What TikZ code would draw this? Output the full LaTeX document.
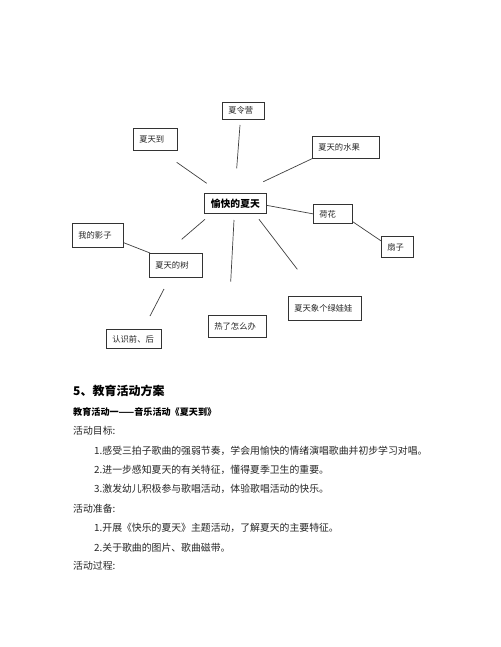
\documentclass[tikz,border=0pt]{standalone}
\usepackage{fontspec}
\newfontfamily\cjk{Noto Sans CJK SC}
\begin{document}
\begin{tikzpicture}[x=1pt,y=-1pt,
  box/.style={draw=black!80,line width=0.7pt,anchor=north west,inner xsep=6pt,inner ysep=0pt,align=left,font=\cjk\fontsize{8.3}{10}\selectfont,text=black!85},
  link/.style={draw=black!75,line width=0.7pt},
  body/.style={anchor=west,inner sep=0pt,font=\cjk\fontsize{9.85}{12}\selectfont,text=black!85}]
\useasboundingbox[fill=white] (0,0) rectangle (500,647);
% mind map boxes
\node[box,text width=30,minimum height=17] (lingying) at (222,102) {夏令营};
\node[box,text width=32,minimum height=22] (daotian) at (133,128) {夏天到};
\node[box,text width=55,minimum height=22] (shuiguo) at (312,136) {夏天的水果};
\node[box,text width=50,minimum height=20,align=center,font=\cjk\bfseries\fontsize{9.8}{12}\selectfont,text=black] (center) at (204,193) {愉快的夏天};
\node[box,text width=27,minimum height=19] (hehua) at (313,204) {荷花};
\node[box,text width=20,minimum height=21] (shanzi) at (381,236) {扇子};
\node[box,text width=39,minimum height=24] (yingzi) at (72,223) {我的影子};
\node[box,text width=41,minimum height=24] (shu) at (149,253) {夏天的树};
\node[box,text width=43,minimum height=19] (renshi) at (106,329) {认识前、后};
\node[box,text width=46,minimum height=22] (rele) at (208,315) {热了怎么办};
\node[box,text width=61,minimum height=24] (wawa) at (288,296) {夏天象个绿娃娃};
% free line ends
\coordinate (a1) at (240,125); \coordinate (a2) at (236.7,168.3);
\coordinate (b1) at (176.7,162.3); \coordinate (b2) at (206.7,183.3);
\coordinate (c2) at (263.3,181.7);
\coordinate (d1) at (205,219.3); \coordinate (d2) at (181.7,239.3);
\coordinate (e1) at (234,220); \coordinate (e2) at (230.7,281.7);
\coordinate (f1) at (259,219.3); \coordinate (f2) at (297.3,269.3);
\coordinate (g1) at (164,289); \coordinate (g2) at (150,316);
% connectors
\draw[link] (a1) -- (a2);
\draw[link] (b1) -- (b2);
\draw[link] (shuiguo.south west) -- (c2);
\draw[link] ([yshift=-2pt]center.east) -- (hehua.west);
\draw[link] ([yshift=2pt]hehua.south east) -- ([yshift=6pt]shanzi.west);
\draw[link] ([yshift=5pt]yingzi.south east) -- ([xshift=1pt]shu.north west);
\draw[link] (d1) -- (d2);
\draw[link] (e1) -- (e2);
\draw[link] (f1) -- (f2);
\draw[link] (g1) -- (g2);
% text
\node[body,font=\cjk\bfseries\fontsize{12}{14}\selectfont,text=black] (h1) at (73,391) {5、教育活动方案};
\node[body,font=\cjk\bfseries\fontsize{9.1}{12}\selectfont,text=black] (h2) at (73,412) {教育活动一——音乐活动《夏天到》};
\node[body] (t1) at (73,431) {活动目标:};
\node[body] (t2) at (94,451) {1.感受三拍子歌曲的强弱节奏，学会用愉快的情绪演唱歌曲并初步学习对唱。};
\node[body] (t3) at (94,469.5) {2.进一步感知夏天的有关特征，懂得夏季卫生的重要。};
\node[body] (t4) at (94,489) {3.激发幼儿积极参与歌唱活动，体验歌唱活动的快乐。};
\node[body] (t5) at (73,508.5) {活动准备:};
\node[body] (t6) at (94,528) {1.开展《快乐的夏天》主题活动，了解夏天的主要特征。};
\node[body] (t7) at (94,547.5) {2.关于歌曲的图片、歌曲磁带。};
\node[body] (t8) at (73,566) {活动过程:};
\end{tikzpicture}
\end{document}
